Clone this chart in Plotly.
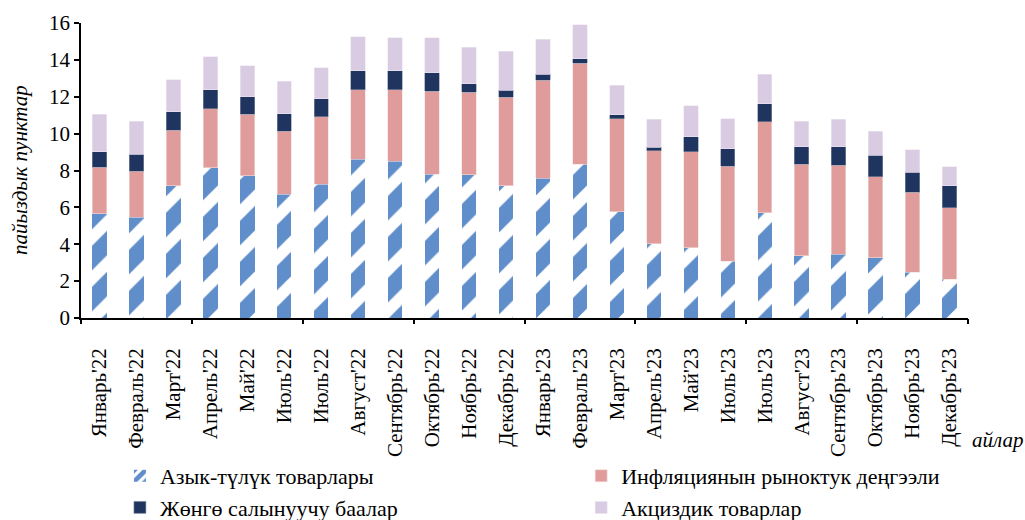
import plotly.graph_objects as go

months = ["Январь'22", "Февраль'22", "Март'22", "Апрель'22", "Май'22", "Июль'22", "Июль'22",
          "Август'22", "Сентябрь'22", "Октябрь'22", "Ноябрь'22", "Декабрь'22",
          "Январь'23", "Февраль'23", "Март'23", "Апрель'23", "Май'23", "Июль'23", "Июль'23",
          "Август'23", "Сентябрь'23", "Октябрь'23", "Ноябрь'23", "Декабрь'23"]

# cumulative tops
top_food = [5.65, 5.47, 7.17, 8.15, 7.71, 6.70, 7.26, 8.62, 8.49, 7.80, 7.77, 7.18,
            7.59, 8.35, 5.76, 4.04, 3.81, 3.07, 5.72, 3.39, 3.45, 3.27, 2.49, 2.11]
top_market = [8.18, 7.97, 10.17, 11.36, 11.06, 10.13, 10.91, 12.39, 12.39, 12.30, 12.25, 11.98,
              12.90, 13.82, 10.82, 9.07, 9.01, 8.24, 10.64, 8.35, 8.29, 7.67, 6.81, 5.98]
top_reg = [9.01, 8.87, 11.18, 12.37, 11.99, 11.07, 11.90, 13.40, 13.40, 13.31, 12.70, 12.34,
           13.22, 14.05, 11.02, 9.25, 9.84, 9.19, 11.63, 9.28, 9.28, 8.83, 7.91, 7.17]
top_excise = [11.04, 10.68, 12.92, 14.18, 13.67, 12.84, 13.58, 15.25, 15.19, 15.19, 14.69, 14.47,
              15.12, 15.91, 12.63, 10.79, 11.51, 10.82, 13.22, 10.68, 10.79, 10.14, 9.12, 8.20]

food = top_food
market = [round(b - a, 2) for a, b in zip(top_food, top_market)]
regulated = [round(b - a, 2) for a, b in zip(top_market, top_reg)]
excise = [round(b - a, 2) for a, b in zip(top_reg, top_excise)]

names = ["Азык-түлүк товарлары", "Инфляциянын рыноктук деңгээли",
         "Жөнгө салынуучу баалар", "Акциздик товарлар"]
y_title = "пайыздык пунктар"
x_title = "айлар"

FONT = "Liberation Serif"
idx = list(range(len(months)))

fig = go.Figure()
fig.add_trace(go.Bar(x=idx, y=food, name=names[0], width=0.39, legend="legend",
                     marker=dict(color="white",
                                 pattern=dict(shape="/", fgcolor="#5f8ecb", bgcolor="white",
                                              fgopacity=1, size=29, solidity=0.6,
                                              fillmode="overlay"),
                                 line=dict(width=0))))
fig.add_trace(go.Bar(x=idx, y=market, name=names[1], width=0.39, legend="legend2",
                     marker=dict(color="#df9c9a", line=dict(width=0.6, color="#f2dede"))))
fig.add_trace(go.Bar(x=idx, y=regulated, name=names[2], width=0.39, legend="legend",
                     marker=dict(color="#1f345e", line=dict(width=0.6, color="#8a93a8"))))
fig.add_trace(go.Bar(x=idx, y=excise, name=names[3], width=0.39, legend="legend2",
                     marker=dict(color="#d8cbe2", line=dict(width=0.6, color="#ece6f1"))))

# invisible trace to activate the boundary-tick axis
fig.add_trace(go.Scatter(x=[idx[0]], y=[0], xaxis="x2", mode="markers",
                         marker=dict(opacity=0), showlegend=False, hoverinfo="skip"))

legend_common = dict(orientation="v", xref="container", yref="container",
                     xanchor="left", yanchor="top", traceorder="normal",
                     font=dict(size=22, family=FONT), itemclick=False,
                     bgcolor="rgba(0,0,0,0)", borderwidth=0)

fig.update_layout(
    barmode="stack",
    width=1025, height=520,
    margin=dict(l=81, r=57, t=23, b=202, autoexpand=False),
    paper_bgcolor="white", plot_bgcolor="white",
    font=dict(family=FONT, size=21, color="black"),
    xaxis=dict(range=[-0.5, len(months) - 0.5], tickvals=idx, ticktext=months,
               tickangle=-90, ticks="", showline=True, linecolor="black", linewidth=1.5,
               showgrid=False, zeroline=False, tickfont=dict(size=21, family=FONT),
               ticklabelstandoff=20),
    xaxis2=dict(overlaying="x", matches="x", side="bottom",
                tickvals=[i - 0.5 for i in range(0, len(months) + 1, 3)],
                ticktext=["" for _ in range(0, len(months) + 1, 3)],
                ticks="outside", ticklen=5, tickwidth=1.5, tickcolor="black",
                showline=False, showgrid=False, zeroline=False),
    yaxis=dict(range=[0, 16], dtick=2, ticks="outside", ticklen=5, tickwidth=1.5,
               tickcolor="black", showline=True, linecolor="black", linewidth=1.5,
               showgrid=False, zeroline=False, tickfont=dict(size=21, family=FONT)),
    legend=dict(x=0.117, y=0.125, **legend_common),
    legend2=dict(x=0.567, y=0.125, **legend_common),
    annotations=[
        dict(text=f"<i>{x_title}</i>", xref="paper", yref="paper", x=1.0338, y=-0.4136,
             xanchor="center", yanchor="middle", showarrow=False,
             font=dict(size=21, family=FONT)),
        dict(text=f"<i>{y_title}</i>", xref="paper", yref="paper", x=-0.0688, y=0.5017,
             xanchor="center", yanchor="middle", textangle=-90, showarrow=False,
             font=dict(size=21, family=FONT)),
    ],
)

fig.write_html("out.html",
               config={"displayModeBar": False},
               post_script="document.body.style.margin='0px';"
                           "document.body.style.overflow='hidden';")
